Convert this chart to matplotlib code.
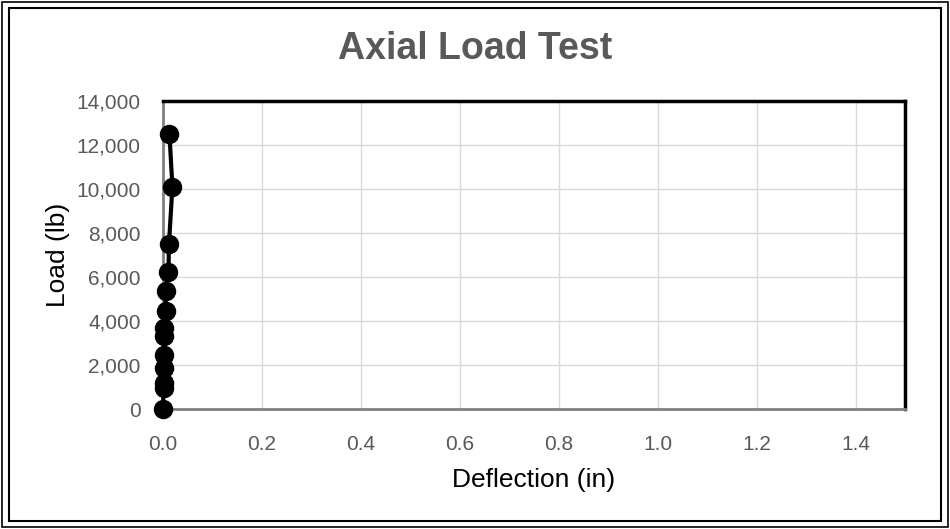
import numpy as np
import matplotlib.pyplot as plt
from matplotlib.patches import Rectangle
from matplotlib.ticker import FuncFormatter

# data
deflection = [0.000, 0.001, 0.001, 0.001, 0.001, 0.001, 0.002, 0.0055, 0.0055, 0.011, 0.012, 0.019, 0.013]
load = [0, 950, 1200, 1850, 2450, 3300, 3700, 4450, 5350, 6250, 7500, 10100, 12500]

x_ticks = [0.0, 0.2, 0.4, 0.6, 0.8, 1.0, 1.2, 1.4]
y_ticks = [0, 2000, 4000, 6000, 8000, 10000, 12000, 14000]

plt.rcParams['font.family'] = ['Liberation Sans', 'DejaVu Sans']

fig = plt.figure(figsize=(9.5, 5.29), dpi=100)

# double frame around the chart
fig.patches.append(Rectangle((0.002, 0.004), 0.996, 0.992, transform=fig.transFigure,
                             fill=False, edgecolor='black', linewidth=1.2))
fig.patches.append(Rectangle((0.009, 0.015), 0.982, 0.970, transform=fig.transFigure,
                             fill=False, edgecolor='black', linewidth=1.5))

ax = fig.add_axes([0.1716, 0.2268, 0.7810, 0.5822])

ax.plot(deflection, load, color='black', linewidth=3, marker='o',
        markersize=13, zorder=3, clip_on=False)

ax.set_xlim(0, 1.5)
ax.set_ylim(0, 14000)
ax.set_xticks(x_ticks)
ax.set_yticks(y_ticks)
ax.xaxis.set_major_formatter(FuncFormatter(lambda v, p: f"{v:.1f}"))
ax.yaxis.set_major_formatter(FuncFormatter(lambda v, p: f"{int(v):,}"))
ax.grid(True, color='#d9d9d9', linewidth=1)
ax.set_axisbelow(True)
ax.tick_params(length=0, labelsize=15, labelcolor='#595959')
ax.tick_params(axis='x', pad=19)
ax.tick_params(axis='y', pad=16)

for s in ['top', 'right']:
    ax.spines[s].set_color('black')
    ax.spines[s].set_linewidth(2.5)
for s in ['left', 'bottom']:
    ax.spines[s].set_color('#7f7f7f')
    ax.spines[s].set_linewidth(2)

ax.set_xlabel('Deflection (in)', fontsize=19, color='black', labelpad=10)
ax.set_ylabel('Load (lb)', fontsize=19, color='black', labelpad=5)
fig.text(0.5, 0.908, 'Axial Load Test', ha='center', va='center',
         fontsize=27, fontweight='bold', color='#595959')

fig.savefig('out.png', dpi=100)
